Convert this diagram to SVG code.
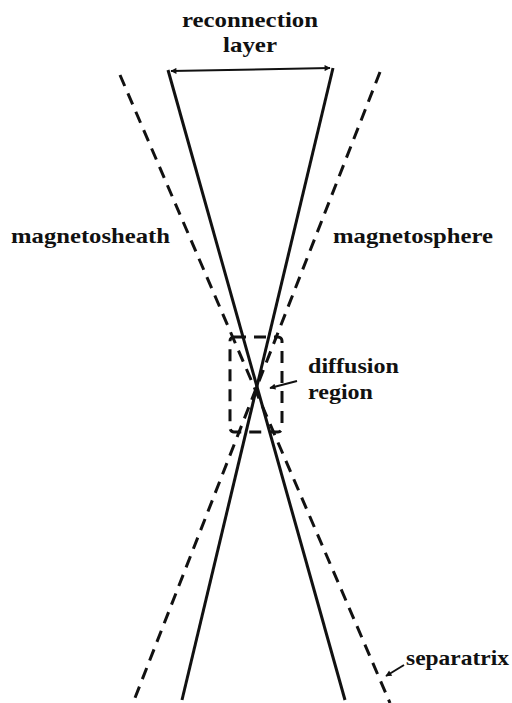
<svg xmlns="http://www.w3.org/2000/svg" width="512" height="703" viewBox="0 0 512 703">
<defs>
<style>
.t{font-family:"Liberation Serif","DejaVu Serif",serif;font-weight:bold;font-size:21px;fill:#111}
.s{stroke:#111;stroke-width:3;fill:none}
.d{stroke:#111;stroke-width:3;fill:none;stroke-dasharray:12 8}
.a{stroke:#111;stroke-width:2;fill:none}
</style>
<marker id="ah" viewBox="0 0 10 10" refX="9" refY="5" markerWidth="7" markerHeight="6" orient="auto-start-reverse" markerUnits="userSpaceOnUse">
<path d="M0,0 L10,5 L0,10 z" fill="#111"/>
</marker>
</defs>
<rect width="512" height="703" fill="#fff"/>
<g id="connectors">
<line class="s" x1="168" y1="70" x2="345" y2="700"/>
<line class="s" x1="333" y1="68" x2="182" y2="700"/>
<line class="d" x1="120" y1="75" x2="390" y2="703"/>
<line class="d" x1="380" y1="72" x2="133" y2="703"/>
<line class="a" x1="171" y1="71" x2="330" y2="68" marker-start="url(#ah)" marker-end="url(#ah)"/>
<line class="a" x1="297" y1="381" x2="270" y2="388" marker-end="url(#ah)"/>
<line class="a" x1="404" y1="665" x2="386" y2="676" marker-end="url(#ah)"/>
</g>
<g id="diffusion-box">
<rect x="230" y="337" width="52" height="95" rx="4" class="d" stroke-dasharray="11 7"/>
</g>
<g id="reconnection-layer">
<text class="t" x="182" y="27" textLength="136" lengthAdjust="spacingAndGlyphs">reconnection</text>
<text class="t" x="223" y="52" textLength="54" lengthAdjust="spacingAndGlyphs">layer</text>
</g>
<g id="magnetosheath"><text class="t" x="11" y="243" textLength="159" lengthAdjust="spacingAndGlyphs">magnetosheath</text></g>
<g id="magnetosphere"><text class="t" x="333" y="243" textLength="160" lengthAdjust="spacingAndGlyphs">magnetosphere</text></g>
<g id="diffusion-region">
<text class="t" x="308" y="373" textLength="91" lengthAdjust="spacingAndGlyphs">diffusion</text>
<text class="t" x="308" y="399" textLength="65" lengthAdjust="spacingAndGlyphs">region</text>
</g>
<g id="separatrix"><text class="t" x="406" y="665" textLength="103" lengthAdjust="spacingAndGlyphs">separatrix</text></g>
</svg>
